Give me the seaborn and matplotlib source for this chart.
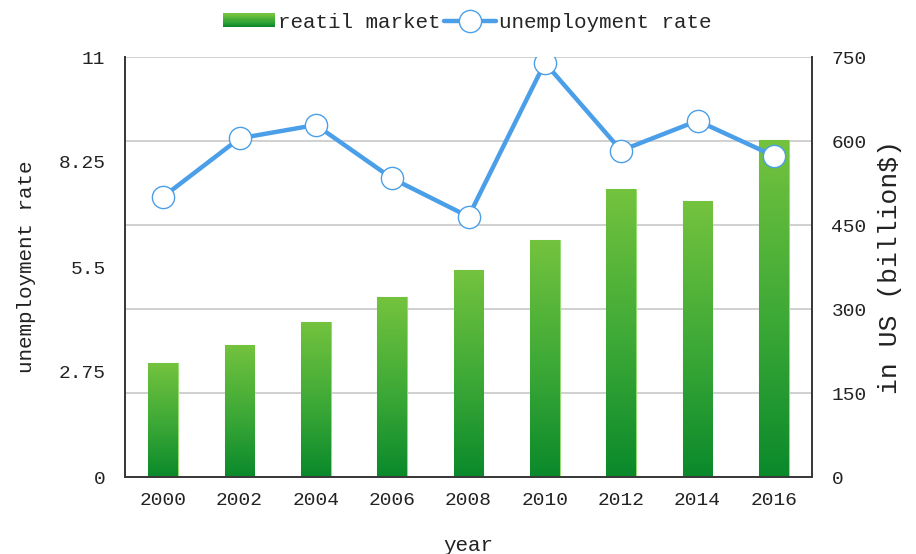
import numpy as np
import pandas as pd
import matplotlib
matplotlib.use("Agg")
import matplotlib.pyplot as plt
import seaborn as sns
from matplotlib.colors import LinearSegmentedColormap
from matplotlib.lines import Line2D
from matplotlib.patches import Rectangle
from matplotlib.legend_handler import HandlerBase

# ---- data ----
years = ["2000", "2002", "2004", "2006", "2008", "2010", "2012", "2014", "2016"]
retail_market = [204, 236, 277, 321, 370, 424, 515, 492, 602]          # in US (billion$)
unemployment_rate = [7.34, 8.87, 9.22, 7.82, 6.82, 10.85, 8.55, 9.33, 8.41]
left_ticks = [0, 2.75, 5.5, 8.25, 11]
left_tick_labels = ["0", "2.75", "5.5", "8.25", "11"]
right_ticks = [0, 150, 300, 450, 600, 750]

df = pd.DataFrame({"year": years, "retail": retail_market, "rate": unemployment_rate})

sns.set_theme(style="white")
plt.rcParams["font.family"] = ["Liberation Mono", "DejaVu Sans Mono"]

LINE_BLUE = "#4b9fe8"
TEXT = "#222222"
green_cmap = LinearSegmentedColormap.from_list(
    "bar_green", [(0.0, "#0a892b"), (0.45, "#3ba836"), (1.0, "#74c33e")])

fig = plt.figure(figsize=(9.16, 5.54), dpi=100)
ax_bar = fig.add_axes([125 / 916, 77 / 554, 687 / 916, 420 / 554])
ax_line = ax_bar.twinx()

# bars (right-hand scale)
sns.barplot(data=df, x="year", y="retail", ax=ax_bar, width=0.39,
            color="#3ba836", edgecolor="#97dc72", linewidth=0.8, zorder=2)

# paint each bar with a vertical green gradient
grad = np.linspace(0, 1, 256).reshape(-1, 1)
for bar in ax_bar.patches:
    x0, y0 = bar.get_x(), bar.get_y()
    w, h = bar.get_width(), bar.get_height()
    im = ax_bar.imshow(grad, extent=[x0, x0 + w, y0, y0 + h], origin="lower",
                       aspect="auto", cmap=green_cmap, zorder=2.5)
    im.set_clip_path(bar)
    bar.set_facecolor("none")

ax_bar.set_xlim(-0.5, len(years) - 0.5)
ax_bar.set_ylim(0, 750)
ax_bar.set_yticks(right_ticks)
ax_bar.grid(axis="y", color="#c4c4c4", linewidth=1.1, zorder=0)
ax_bar.set_axisbelow(True)

# line (left-hand scale), drawn above the bars
sns.pointplot(data=df, x="year", y="rate", ax=ax_line, color=LINE_BLUE,
              errorbar=None, markers="o", linestyles="-", linewidth=3.2,
              markersize=16, markerfacecolor="white", markeredgecolor=LINE_BLUE,
              markeredgewidth=1.0, zorder=5)
ax_line.set_xlim(-0.5, len(years) - 0.5)
ax_line.set_ylim(0, 11)
ax_line.set_yticks(left_ticks)
ax_line.set_yticklabels(left_tick_labels)
ax_line.set_xlabel("")

# swap sides: rate scale on the left, billions on the right
ax_bar.yaxis.tick_right()
ax_bar.yaxis.set_label_position("right")
ax_line.yaxis.tick_left()
ax_line.yaxis.set_label_position("left")

ax_bar.set_ylabel("in US (billion$)", fontsize=19, labelpad=8, color=TEXT)
ax_line.set_ylabel("unemployment rate", fontsize=15, labelpad=16, color=TEXT)
ax_bar.set_xlabel("year", fontsize=15, labelpad=19, color=TEXT)

for a in (ax_bar, ax_line):
    a.tick_params(axis="both", length=0, labelsize=14, colors=TEXT)
    a.tick_params(axis="y", pad=14)
    a.tick_params(axis="x", pad=11)
    for side in ("left", "right", "bottom"):
        a.spines[side].set_color("#3a3a3a")
        a.spines[side].set_linewidth(1.4)
    a.spines["top"].set_visible(False)


class GradientPatchHandler(HandlerBase):
    def create_artists(self, legend, orig_handle, xdescent, ydescent,
                       width, height, fontsize, trans):
        n = 12
        artists = []
        for i in range(n):
            r = Rectangle((-xdescent, -ydescent + height * i / n), width, height / n + 0.3,
                          facecolor=green_cmap(i / (n - 1)), edgecolor="none",
                          transform=trans)
            artists.append(r)
        return artists


bar_handle = Rectangle((0, 0), 1, 1)
line_handle = Line2D([], [], color=LINE_BLUE, lw=3.2, marker="o", ms=16,
                     mfc="white", mec=LINE_BLUE, mew=1.0)
fig.legend([bar_handle, line_handle], ["reatil market", "unemployment rate"],
           handler_map={Rectangle: GradientPatchHandler()},
           loc="center", bbox_to_anchor=(0.51, 0.96), ncol=2, frameon=False,
           fontsize=15, handlelength=2.5, handletextpad=0.15, columnspacing=0.15,
           handleheight=0.65)

fig.savefig("out.png", dpi=100)
